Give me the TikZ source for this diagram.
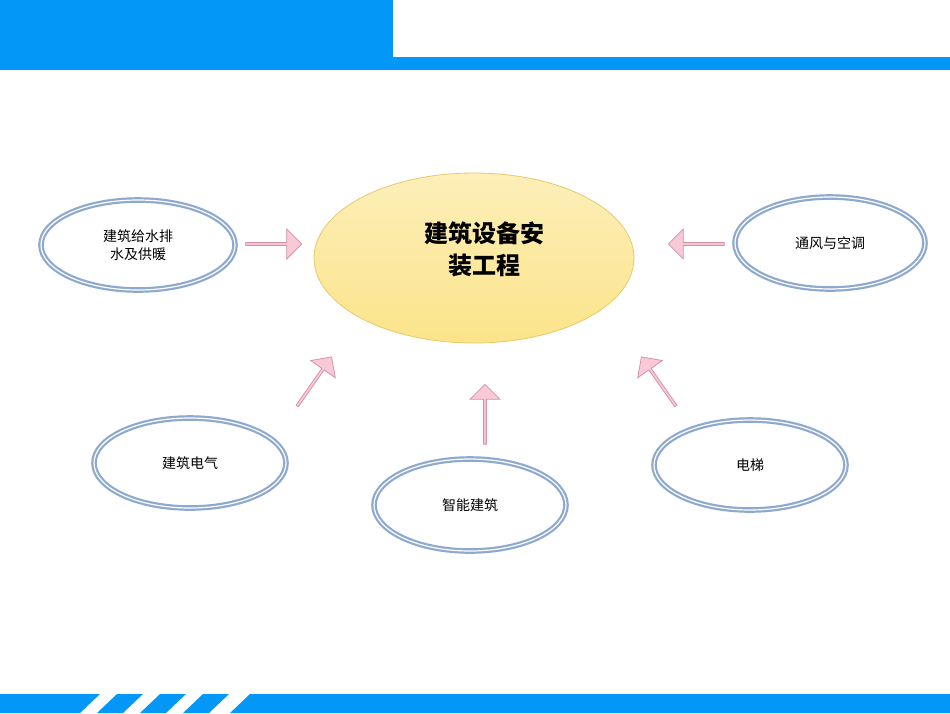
\documentclass[tikz,border=0pt]{standalone}
\usepackage{fontspec}
\setmainfont{Noto Sans CJK SC}
\usetikzlibrary{shapes.arrows,shapes.geometric}
\definecolor{barblue}{HTML}{0398F8}
\definecolor{ringblue}{HTML}{8EA9D0}
\definecolor{pinkf}{HTML}{F9CAD6}
\definecolor{pinkd}{HTML}{D593AA}
\definecolor{yelf}{HTML}{FBE48A}
\definecolor{yeld}{HTML}{E7C96A}
\begin{document}
\begin{tikzpicture}[x=1pt,y=-1pt,
 sub/.style={ellipse,draw=ringblue,line width=2.2pt,double=white,double distance=1.2pt,fill=white,align=center,font=\fontsize{14}{18}\selectfont},
 blk/.style={single arrow,draw=pinkd,fill=pinkf,line width=0.8pt,minimum height=#1,minimum width=30pt,single arrow head extend=4pt,single arrow tip angle=90,inner sep=0pt}]
\useasboundingbox (0,0) rectangle (950,713);
\fill[barblue] (0,0) rectangle (393,70);
\fill[barblue] (393,57) rectangle (950,70);
\fill[barblue] (0,713) -- (0,694) -- (100,694) -- (80,713) -- cycle;
\foreach \a in {117,160,203}{\fill[barblue] (\a,694) -- (\a+26,694) -- (\a+6,713) -- (\a-20,713) -- cycle;}
\fill[barblue] (250,694) -- (950,694) -- (950,713) -- (230,713) -- cycle;
\shade[draw=yeld,line width=0.8pt,top color=yelf!60!white,bottom color=yelf] (474,258) ellipse [x radius=160,y radius=85];
\node[font=\fontsize{24}{32}\selectfont\bfseries,align=center] (c) at (484,249) {建筑设备安\\装工程};
\node[sub,minimum width=194pt,minimum height=90pt] (a) at (138,245) {建筑给水排\\水及供暖};
\node[sub,minimum width=190pt,minimum height=92pt] (b) at (830,243) {通风与空调};
\node[sub,minimum width=192pt,minimum height=90pt] (d) at (190,463) {建筑电气};
\node[sub,minimum width=192pt,minimum height=92pt] (e) at (470,505) {智能建筑};
\node[sub,minimum width=192pt,minimum height=90pt] (f) at (750,465) {电梯};
\node[blk=56pt] (a1) at (273,244) {};
\node[blk=56pt,rotate=180] (b1) at (697,244) {};
\node[blk=60pt,rotate=55] (d1) at (314,382) {};
\node[blk=60pt,rotate=90] (e1) at (485,415) {};
\node[blk=60pt,rotate=125] (f1) at (659,382) {};
\end{tikzpicture}
\end{document}
